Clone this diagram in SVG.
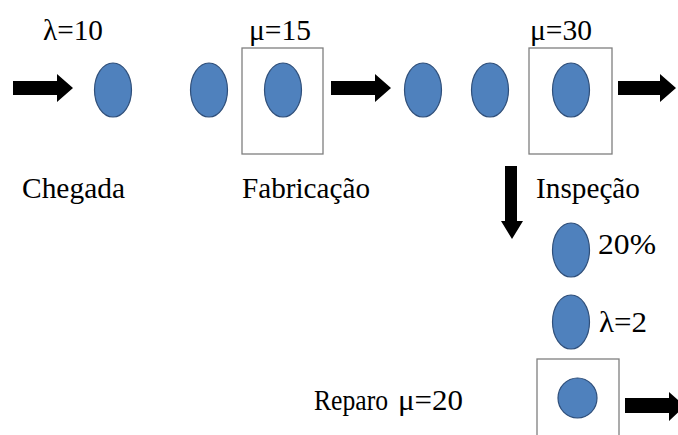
<svg xmlns="http://www.w3.org/2000/svg" width="678" height="435" viewBox="0 0 678 435">
<defs>
<ellipse id="dot" cx="0" cy="0" rx="18.5" ry="27" fill="#4f81bd" stroke="#2f4f7a" stroke-width="1.2"/>
</defs>
<rect width="678" height="435" fill="#fff"/>
<g id="connectors" fill="#000">
<polygon points="13,81 57,81 57,74 73,88 57,102 57,95 13,95"/>
<polygon points="331,81 375,81 375,74 391,88 375,102 375,95 331,95"/>
<polygon points="618,81 660,81 660,74 676,88 660,102 660,95 618,95"/>
<polygon points="505,166 517,166 517,221 523,221 512,239 501,221 505,221"/>
<polygon points="625,398 669,398 669,392 685,406 669,421 669,413 625,413"/>
</g>
<g id="chegada">
<text x="43" y="40" font-family="Liberation Serif" font-size="29" textLength="60" lengthAdjust="spacingAndGlyphs">λ=10</text>
<use href="#dot" x="113" y="90"/>
<text x="22" y="198" font-family="Liberation Serif" font-size="29" textLength="103" lengthAdjust="spacingAndGlyphs">Chegada</text>
</g>
<g id="fila-fabricacao">
<use href="#dot" x="209" y="90"/>
</g>
<g id="fabricacao">
<text x="249" y="40" font-family="Liberation Serif" font-size="29" textLength="62" lengthAdjust="spacingAndGlyphs">μ=15</text>
<rect x="242" y="48" width="81" height="106" fill="none" stroke="#7f7f7f" stroke-width="1.3"/>
<use href="#dot" x="283" y="90"/>
<text x="242" y="198" font-family="Liberation Serif" font-size="29" textLength="128" lengthAdjust="spacingAndGlyphs">Fabricação</text>
</g>
<g id="fila-inspecao">
<use href="#dot" x="423" y="90"/>
<use href="#dot" x="490" y="90"/>
</g>
<g id="inspecao">
<text x="530" y="40" font-family="Liberation Serif" font-size="29" textLength="62" lengthAdjust="spacingAndGlyphs">μ=30</text>
<rect x="529" y="48" width="83" height="106" fill="none" stroke="#7f7f7f" stroke-width="1.3"/>
<use href="#dot" x="571" y="90"/>
<text x="536" y="198" font-family="Liberation Serif" font-size="29" textLength="104" lengthAdjust="spacingAndGlyphs">Inspeção</text>
</g>
<g id="fila-reparo">
<use href="#dot" x="571" y="250"/>
<text x="598" y="254" font-family="Liberation Serif" font-size="29" textLength="58" lengthAdjust="spacingAndGlyphs">20%</text>
<use href="#dot" x="571" y="322"/>
<text x="599" y="332" font-family="Liberation Serif" font-size="29" textLength="48" lengthAdjust="spacingAndGlyphs">λ=2</text>
</g>
<g id="reparo">
<text x="314" y="410" font-family="Liberation Serif" font-size="29" textLength="74" lengthAdjust="spacingAndGlyphs">Reparo</text>
<text x="398" y="410" font-family="Liberation Serif" font-size="29" textLength="65" lengthAdjust="spacingAndGlyphs">μ=20</text>
<rect x="537" y="359" width="82" height="80" fill="none" stroke="#7f7f7f" stroke-width="1.3"/>
<ellipse cx="577.5" cy="398" rx="19.5" ry="20" fill="#4f81bd" stroke="#2f4f7a" stroke-width="1.2"/>
</g>
</svg>
